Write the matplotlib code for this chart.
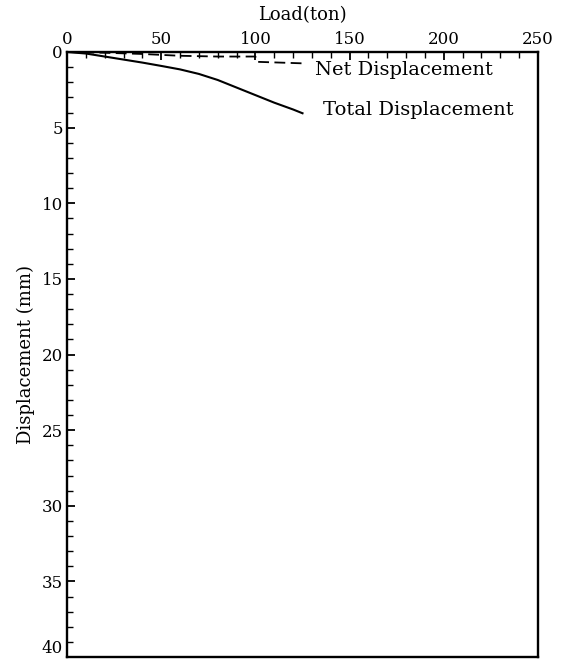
import matplotlib
matplotlib.use("Agg")
import matplotlib.pyplot as plt
from matplotlib.ticker import MultipleLocator

plt.rcParams['font.family'] = ['DejaVu Serif']

# Data
total_load = [0, 10, 20, 30, 40, 50, 60, 70, 80, 90, 100, 110, 120, 125]
total_disp = [0, 0.1, 0.3, 0.5, 0.7, 0.92, 1.15, 1.45, 1.85, 2.35, 2.85, 3.35, 3.8, 4.05]

net_load = [0, 20, 40, 60, 80, 100, 101, 125]
net_disp = [0, 0.05, 0.13, 0.25, 0.3, 0.3, 0.65, 0.75]

x_ticks = [0, 50, 100, 150, 200, 250]
y_ticks = [0, 5, 10, 15, 20, 25, 30, 35, 40]

fig = plt.figure(figsize=(5.61, 6.63), dpi=100)
ax = fig.add_axes([67/561, 1-657/663, (538-67)/561, (657-52)/663])

ax.plot(total_load, total_disp, color='black', lw=1.5)
ax.plot(net_load, net_disp, color='black', lw=1.3, linestyle=(0, (6, 3)))

ax.set_xlim(0, 250)
ax.set_ylim(40, 0)
ax.xaxis.set_ticks_position('top')
ax.xaxis.set_label_position('top')
ax.set_xticks(x_ticks)
ax.set_yticks(y_ticks)
ax.xaxis.set_minor_locator(MultipleLocator(10))
ax.yaxis.set_minor_locator(MultipleLocator(1))
ax.tick_params(which='major', direction='in', length=6, width=1.3, labelsize=12, pad=3)
ax.tick_params(which='minor', direction='in', length=4, width=1.0)
ax.tick_params(axis='x', which='both', top=True, bottom=False)
ax.tick_params(axis='y', which='both', left=True, right=False)
for s in ax.spines.values():
    s.set_linewidth(1.7)

# keep the bottom "40" label inside the figure
for lbl in ax.get_yticklabels():
    if lbl.get_text() == '40':
        lbl.set_verticalalignment('bottom')

ax.set_xlabel('Load(ton)', fontsize=13, labelpad=8)
ax.set_ylabel('Displacement (mm)', fontsize=13, labelpad=5)

ax.text(131.5, 1.2, 'Net Displacement', fontsize=14, va='center', ha='left')
ax.text(136, 3.85, 'Total Displacement', fontsize=14, va='center', ha='left')

fig.savefig('out.png', dpi=100)
